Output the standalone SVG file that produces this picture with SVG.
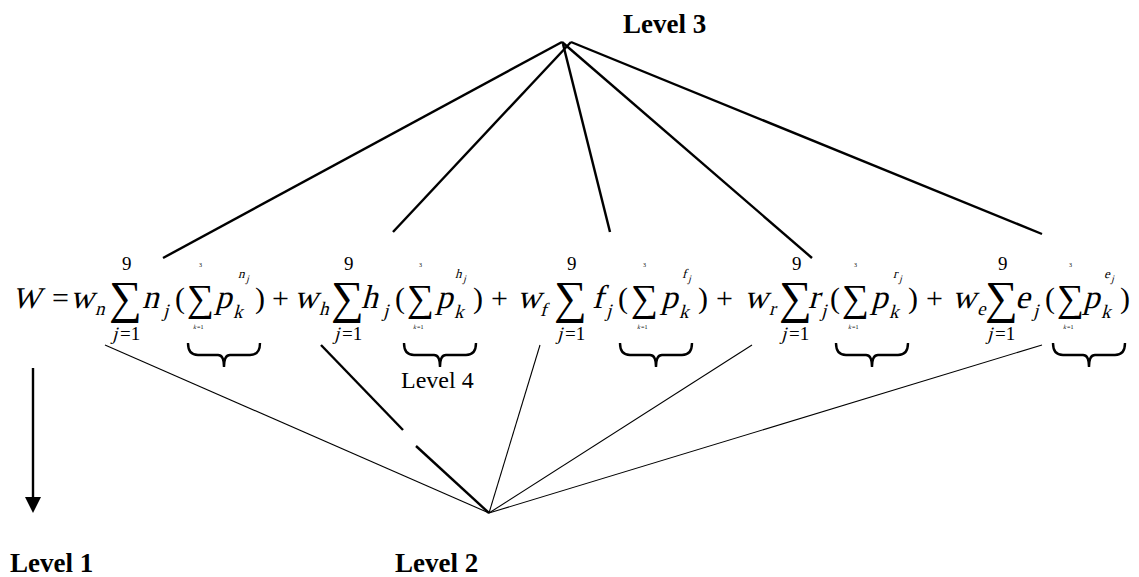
<svg xmlns="http://www.w3.org/2000/svg" width="1139" height="577" viewBox="0 0 1139 577">
<style>
text{font-family:"Liberation Serif","Times New Roman",serif;fill:#000}
.m{font-size:33px}
.op{font-size:30px}
.W{font-size:30px}
.big{font-size:46px}
.sm{font-size:38px}
.sub{font-size:19px}
.lim{font-size:19px}
.sup{font-size:13px}
.supj{font-size:10px}
.tiny{font-size:6px}
.lvl{font-size:27px;font-weight:bold}
.lvl4{font-size:24px}
.thick{stroke:#000;stroke-width:2.4;fill:none}
.thin{stroke:#000;stroke-width:1.1;fill:none}
.brace{stroke:#000;stroke-width:2.4;fill:none}
</style>
<defs>
<path id="br" d="M0,343 Q0,355 10,355 L30,355 Q36,355 36,367 Q36,355 42,355 L62,355 Q72,355 72,343"/>
</defs>

<g id="connectors">
<line class="thick" x1="562" y1="42" x2="163" y2="258"/>
<line class="thick" x1="571" y1="42" x2="393" y2="232"/>
<line class="thick" x1="563" y1="44" x2="610" y2="232"/>
<line class="thick" x1="562" y1="42" x2="812" y2="258"/>
<line class="thick" x1="571" y1="42" x2="1042" y2="234"/>
<line class="thin" x1="105" y1="345" x2="489" y2="513"/>
<line class="thick" x1="321" y1="345" x2="403" y2="430"/>
<line class="thick" x1="416" y1="446" x2="489" y2="513"/>
<line class="thin" x1="540" y1="345" x2="489" y2="513"/>
<line class="thin" x1="752" y1="345" x2="489" y2="513"/>
<line class="thin" x1="1042" y1="345" x2="489" y2="513"/>
</g>

<g id="arrow">
<line class="thick" x1="33" y1="368" x2="33" y2="500"/>
<polygon points="25,497 41,497 33,513" fill="#000"/>
</g>

<g id="level1"><text class="lvl" x="10" y="572">Level 1</text></g>
<g id="level2"><text class="lvl" x="395" y="572">Level 2</text></g>
<g id="level3"><text class="lvl" x="623" y="33">Level 3</text></g>

<g id="equation">
<text class="W" transform="translate(12,308) skewX(-15)">W</text>
<text class="op" x="52" y="308">=</text>

<g id="term-n">
<text class="m" transform="translate(70,308) skewX(-15)">w</text>
<text class="sub" transform="translate(95,315) skewX(-15)">n</text>
<text class="big" x="109" y="313">∑</text>
<text class="lim" x="122" y="270">9</text>
<text class="lim" transform="translate(112,340) skewX(-15)">j</text>
<text class="lim" x="120" y="340">=1</text>
<text class="m" transform="translate(142,308) skewX(-15)">n</text>
<text class="sub" transform="translate(163,317) skewX(-15)">j</text>
<text class="op" x="175" y="308">(</text>
<text class="sm" x="187" y="311">∑</text>
<text class="tiny" x="199" y="267">3</text>
<text class="tiny" transform="translate(193,329) skewX(-15)">k</text>
<text class="tiny" x="197" y="329">=1</text>
<text class="m" transform="translate(215,308) skewX(-15)">p</text>
<text class="sub" transform="translate(233,318) skewX(-15)">k</text>
<text class="sup" transform="translate(238,278) skewX(-15)">n</text>
<text class="supj" transform="translate(246,282) skewX(-15)">j</text>
<text class="op" x="255" y="308">)</text>
<text class="op" x="272" y="308">+</text>
</g>

<g id="term-h">
<text class="m" transform="translate(294,308) skewX(-15)">w</text>
<text class="sub" transform="translate(319,315) skewX(-15)">h</text>
<text class="big" x="331" y="313">∑</text>
<text class="lim" x="344" y="270">9</text>
<text class="lim" transform="translate(334,340) skewX(-15)">j</text>
<text class="lim" x="342" y="340">=1</text>
<text class="m" transform="translate(361,308) skewX(-15)">h</text>
<text class="sub" transform="translate(383,317) skewX(-15)">j</text>
<text class="op" x="395" y="308">(</text>
<text class="sm" x="407" y="311">∑</text>
<text class="tiny" x="419" y="267">3</text>
<text class="tiny" transform="translate(413,329) skewX(-15)">k</text>
<text class="tiny" x="417" y="329">=1</text>
<text class="m" transform="translate(436,308) skewX(-15)">p</text>
<text class="sub" transform="translate(454,318) skewX(-15)">k</text>
<text class="sup" transform="translate(455,278) skewX(-15)">h</text>
<text class="supj" transform="translate(463,282) skewX(-15)">j</text>
<text class="op" x="473" y="308">)</text>
<text class="op" x="491" y="308">+</text>
</g>

<g id="term-f">
<text class="m" transform="translate(517,308) skewX(-15)">w</text>
<text class="sub" transform="translate(540,316) skewX(-15)">f</text>
<text class="big" x="554" y="313">∑</text>
<text class="lim" x="567" y="270">9</text>
<text class="lim" transform="translate(557,340) skewX(-15)">j</text>
<text class="lim" x="565" y="340">=1</text>
<text class="m" transform="translate(592,308) skewX(-15)">f</text>
<text class="sub" transform="translate(606,317) skewX(-15)">j</text>
<text class="op" x="618" y="308">(</text>
<text class="sm" x="631" y="311">∑</text>
<text class="tiny" x="643" y="267">3</text>
<text class="tiny" transform="translate(637,329) skewX(-15)">k</text>
<text class="tiny" x="641" y="329">=1</text>
<text class="m" transform="translate(661,308) skewX(-15)">p</text>
<text class="sub" transform="translate(679,318) skewX(-15)">k</text>
<text class="sup" transform="translate(682,278) skewX(-15)">f</text>
<text class="supj" transform="translate(688,282) skewX(-15)">j</text>
<text class="op" x="698" y="308">)</text>
<text class="op" x="716" y="308">+</text>
</g>

<g id="term-r">
<text class="m" transform="translate(744,308) skewX(-15)">w</text>
<text class="sub" transform="translate(769,315) skewX(-15)">r</text>
<text class="big" x="779" y="313">∑</text>
<text class="lim" x="792" y="270">9</text>
<text class="lim" transform="translate(781,340) skewX(-15)">j</text>
<text class="lim" x="789" y="340">=1</text>
<text class="m" transform="translate(808,308) skewX(-15)">r</text>
<text class="sub" transform="translate(821,317) skewX(-15)">j</text>
<text class="op" x="830" y="308">(</text>
<text class="sm" x="842" y="311">∑</text>
<text class="tiny" x="854" y="267">3</text>
<text class="tiny" transform="translate(848,329) skewX(-15)">k</text>
<text class="tiny" x="852" y="329">=1</text>
<text class="m" transform="translate(871,308) skewX(-15)">p</text>
<text class="sub" transform="translate(889,318) skewX(-15)">k</text>
<text class="sup" transform="translate(893,278) skewX(-15)">r</text>
<text class="supj" transform="translate(899,282) skewX(-15)">j</text>
<text class="op" x="908" y="308">)</text>
<text class="op" x="926" y="308">+</text>
</g>

<g id="term-e">
<text class="m" transform="translate(952,308) skewX(-15)">w</text>
<text class="sub" transform="translate(977,315) skewX(-15)">e</text>
<text class="big" x="985" y="313">∑</text>
<text class="lim" x="998" y="270">9</text>
<text class="lim" transform="translate(987,340) skewX(-15)">j</text>
<text class="lim" x="995" y="340">=1</text>
<text class="m" transform="translate(1015,308) skewX(-15)">e</text>
<text class="sub" transform="translate(1033,317) skewX(-15)">j</text>
<text class="op" x="1045" y="308">(</text>
<text class="sm" x="1057" y="311">∑</text>
<text class="tiny" x="1069" y="267">3</text>
<text class="tiny" transform="translate(1063,329) skewX(-15)">k</text>
<text class="tiny" x="1067" y="329">=1</text>
<text class="m" transform="translate(1083,308) skewX(-15)">p</text>
<text class="sub" transform="translate(1101,318) skewX(-15)">k</text>
<text class="sup" transform="translate(1104,278) skewX(-15)">e</text>
<text class="supj" transform="translate(1111,282) skewX(-15)">j</text>
<text class="op" x="1120" y="308">)</text>
</g>
</g>

<g id="braces">
<use href="#br" class="brace" x="188"/>
<use href="#br" class="brace" x="404"/>
<use href="#br" class="brace" x="620"/>
<use href="#br" class="brace" x="836"/>
<use href="#br" class="brace" x="1053"/>
</g>

<g id="level4"><text class="lvl4" x="401" y="388">Level 4</text></g>
</svg>
